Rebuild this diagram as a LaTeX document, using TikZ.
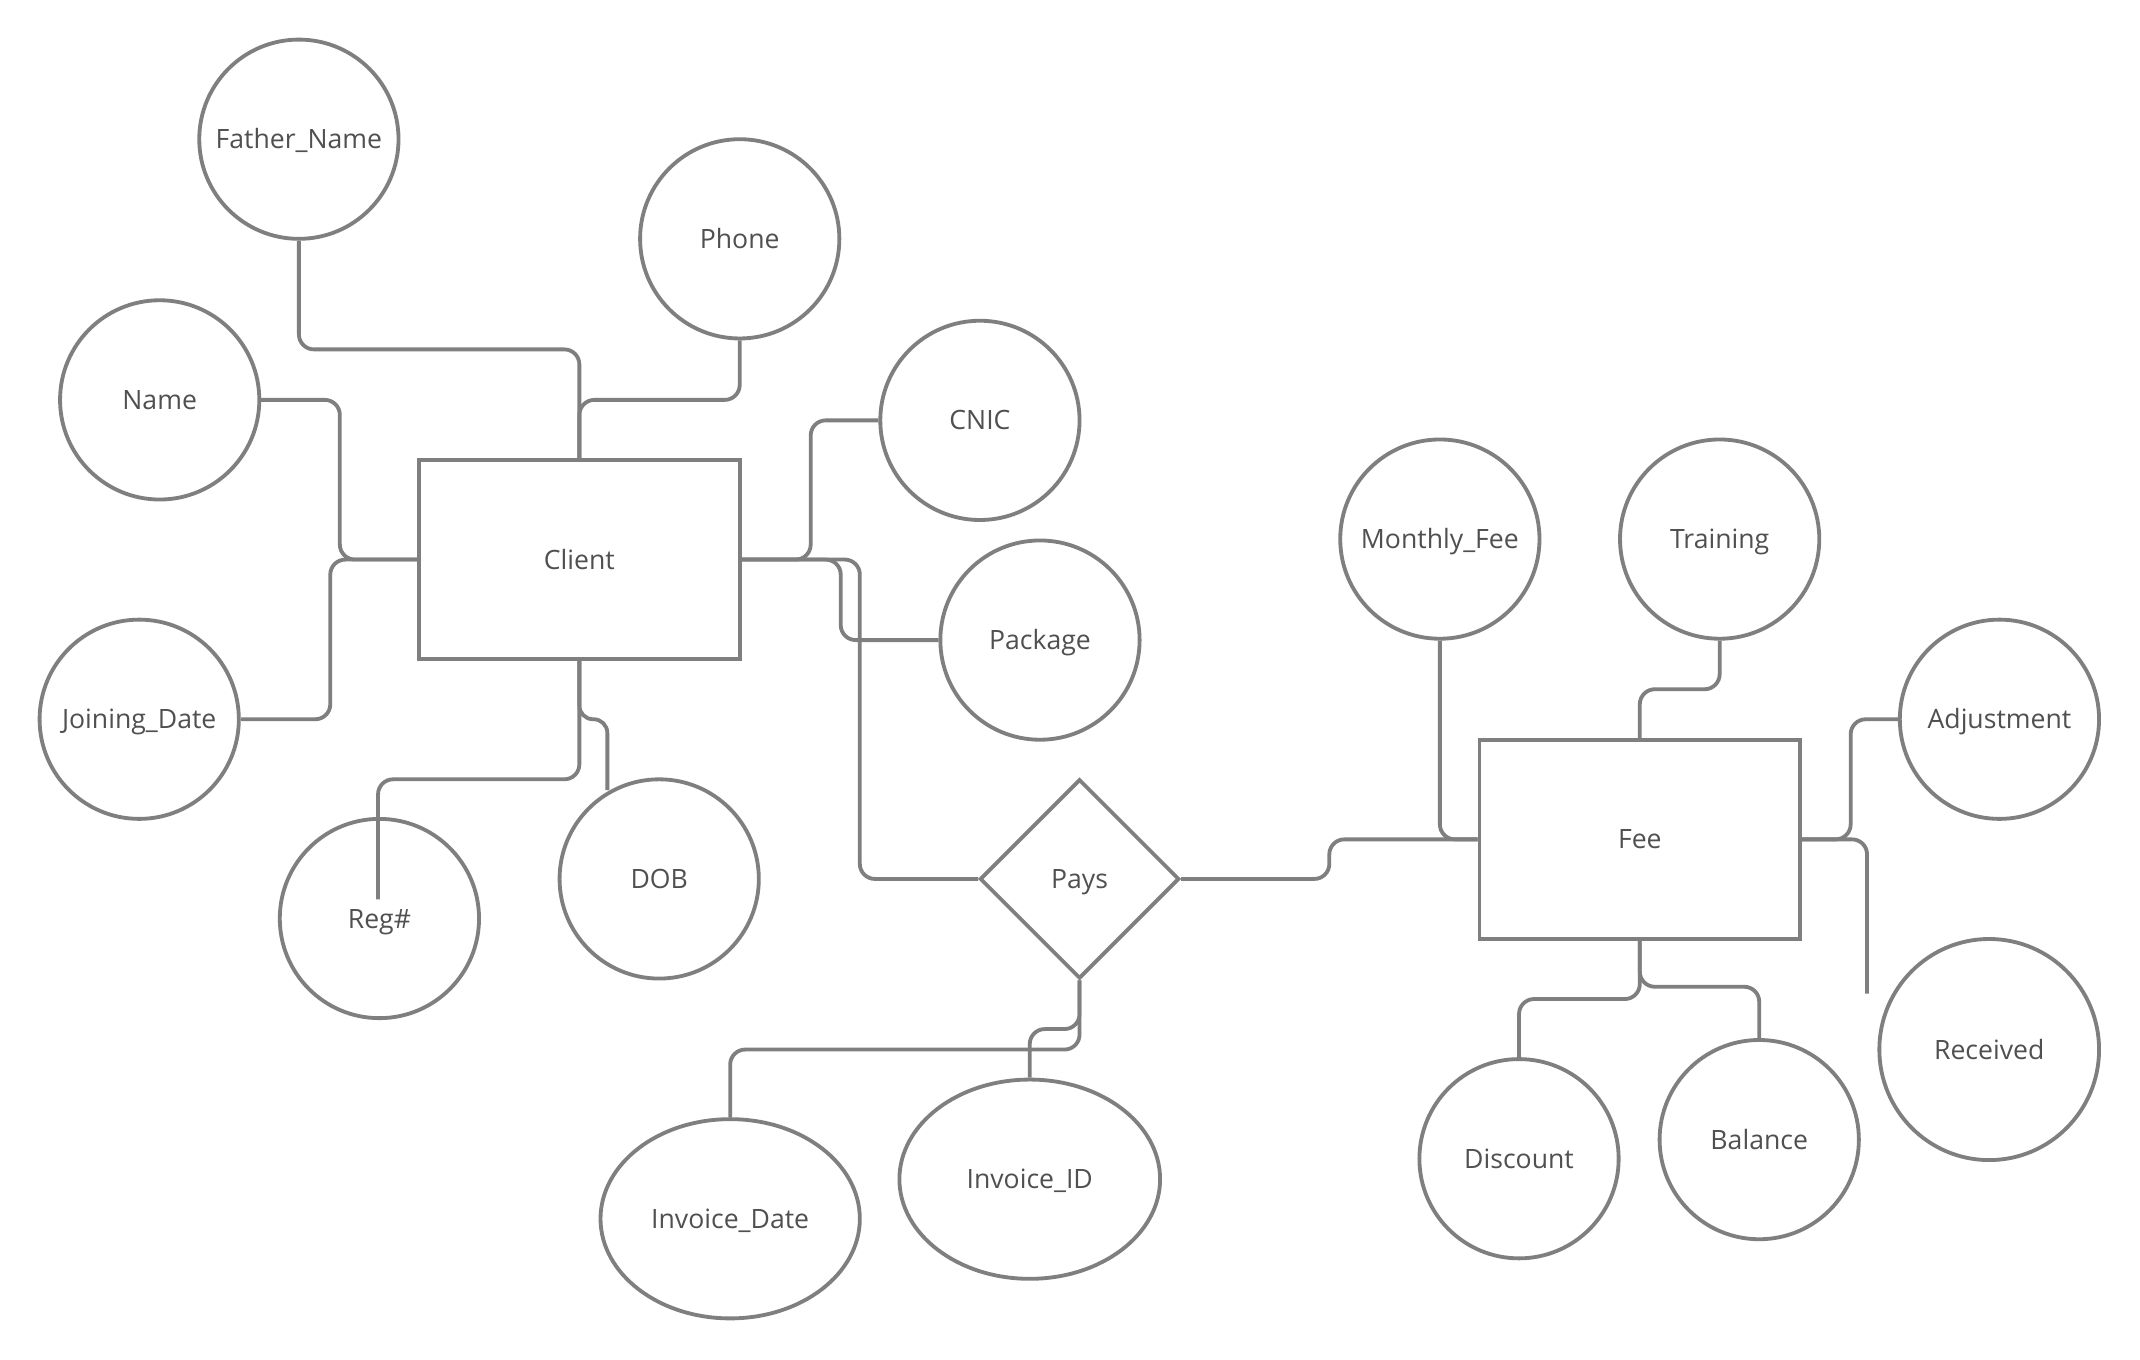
\documentclass[tikz,border=0pt]{standalone}
\usepackage{fontspec}
\setmainfont{Open Sans}
\usetikzlibrary{shapes.geometric}
\definecolor{lc}{HTML}{7F7F7F}
\definecolor{tc}{HTML}{505050}
\newcommand{\ztext}[1]{\makebox[0pt]{#1}}
\begin{document}
\begin{tikzpicture}[x=1pt,y=-1pt,
  base/.style={draw=lc, line width=2.8pt, inner sep=0pt, text=tc, text height=14pt, text depth=0pt, font=\fontsize{19.5}{23}\selectfont},
  attr/.style={base, ellipse, minimum width=146pt, minimum height=146pt},
  ent/.style={base, rectangle, minimum width=235pt, minimum height=146pt},
  rel/.style={base, diamond, minimum width=146pt, minimum height=146pt},
  conn/.style={draw=lc, line width=2.8pt, rounded corners=11pt}]
\fill[white] (0,0) rectangle (1568,996);
\useasboundingbox (0,0) rectangle (1568,996);

% attributes
\node[attr] (fname) at (219,102) {\ztext{Father\_Name}};
\node[attr] (phone) at (542,175) {\ztext{Phone}};
\node[attr] (name) at (117,293) {\ztext{Name}};
\node[attr] (cnic) at (718,308) {\ztext{CNIC}};
\node[attr] (pkg) at (762,469) {\ztext{Package}};
\node[attr] (jdate) at (102,527) {\ztext{Joining\_Date}};
\node[attr] (reg) at (278,673) {\ztext{Reg\#}};
\node[attr] (dob) at (483,644) {\ztext{DOB}};
\node[attr, minimum width=190pt] (idate) at (535,893) {\ztext{Invoice\_Date}};
\node[attr, minimum width=191pt] (iid) at (754.5,864) {\ztext{Invoice\_ID}};
\node[attr] (mfee) at (1055,395) {\ztext{Monthly\_Fee}};
\node[attr] (train) at (1260,395) {\ztext{Training}};
\node[attr] (adj) at (1465,527) {\ztext{Adjustment}};
\node[attr, minimum width=161pt, minimum height=162pt] (recv) at (1457.5,769) {\ztext{Received}};
\node[attr] (disc) at (1113,849) {\ztext{Discount}};
\node[attr] (bal) at (1289,835) {\ztext{Balance}};

% entities and relationship
\node[ent] (client) at (424.5,410) {Client};
\node[ent] (fee) at (1201.5,615) {Fee};
\node[rel] (pays) at (791,644) {\ztext{Pays}};

% free ends
\coordinate (regend) at (277,659);
\coordinate (dobend) at (445,579);
\coordinate (recvend) at (1368,728);

% client connectors
\draw[conn] (fname.south) -- (219,256) -- (424.5,256) -- (client.north);
\draw[conn] (phone.south) -- (542,293) -- (424.5,293) -- (client.north);
\draw[conn] (name.east) -- (249,293) -- (249,410) -- (client.west);
\draw[conn] (jdate.east) -- (242,527) -- (242,410) -- (client.west);
\draw[conn] (cnic.west) -- (594,308) -- (594,410) -- (client.east);
\draw[conn] (pkg.west) -- (616,469) -- (616,410) -- (client.east);
\draw[conn] (pays.west) -- (630,644) -- (630,410) -- (client.east);
\draw[conn] (client.south) -- (424.5,571) -- (277,571) -- (regend);
\draw[conn, rounded corners=10pt] (client.south) -- (424.5,527) -- (445,527) -- (dobend);

% pays connectors
\draw[conn] (pays.south) -- (791,754) -- (754.5,754) -- (iid.north);
\draw[conn] (pays.south) -- (791,769) -- (535,769) -- (idate.north);
\draw[conn] (pays.east) -- (974,644) -- (974,615) -- (fee.west);

% fee connectors
\draw[conn] (mfee.south) -- (1055,615) -- (fee.west);
\draw[conn] (train.south) -- (1260,505) -- (1201.5,505) -- (fee.north);
\draw[conn] (adj.west) -- (1356,527) -- (1356,615) -- (fee.east);
\draw[conn] (fee.east) -- (1368,615) -- (recvend);
\draw[conn] (fee.south) -- (1201.5,732) -- (1113,732) -- (disc.north);
\draw[conn] (fee.south) -- (1201.5,723) -- (1289,723) -- (bal.north);
\end{tikzpicture}
\end{document}
